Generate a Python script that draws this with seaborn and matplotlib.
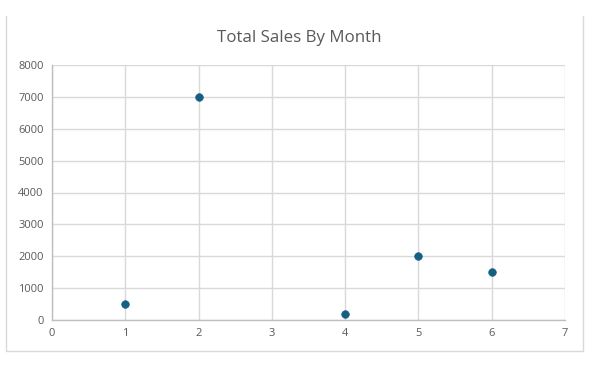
import pandas as pd
import seaborn as sns
import matplotlib.pyplot as plt
from matplotlib.lines import Line2D

# data
months = [1, 2, 4, 5, 6]
sales = [500, 7000, 200, 2000, 1500]

x_ticks = [0, 1, 2, 3, 4, 5, 6, 7]
y_ticks = [0, 1000, 2000, 3000, 4000, 5000, 6000, 7000, 8000]

df = pd.DataFrame({"month": months, "sales": sales})

sns.set_style("white")
plt.rcParams['font.family'] = ['Open Sans', 'DejaVu Sans']

fig = plt.figure(figsize=(6.09, 3.84), dpi=100)
ax = fig.add_axes([52 / 609, 1 - 320 / 384, (565 - 52) / 609, (320 - 65) / 384])

sns.scatterplot(data=df, x="month", y="sales", ax=ax, color="#156082",
                s=30, edgecolor="#156082", linewidth=0.5, zorder=3)

ax.set_xlim(0, 7)
ax.set_ylim(0, 8000)
ax.set_xticks(x_ticks)
ax.set_yticks(y_ticks)
ax.grid(True, color="#d9d9d9", linewidth=1)
ax.tick_params(length=0, colors="#595959", labelsize=8, pad=6)
for s in ["top", "right"]:
    ax.spines[s].set_visible(False)
for s in ["left", "bottom"]:
    ax.spines[s].set_color("#bfbfbf")
    ax.spines[s].set_linewidth(1)
ax.set_xlabel("")
ax.set_ylabel("")

fig.text(0.5 - 5 / 609, 1 - 38 / 384, "Total Sales By Month", ha="center", va="center",
         fontsize=12.2, color="#595959")

# chart area border
bc = "#d9d9d9"
fig.add_artist(Line2D([6 / 609, 6 / 609], [1 - 16 / 384, 1 - 351 / 384], color=bc, lw=1))
fig.add_artist(Line2D([583 / 609, 583 / 609], [1 - 16 / 384, 1 - 351 / 384], color=bc, lw=1))
fig.add_artist(Line2D([6 / 609, 583 / 609], [1 - 351 / 384, 1 - 351 / 384], color=bc, lw=1))

fig.savefig("out.png", dpi=100)
